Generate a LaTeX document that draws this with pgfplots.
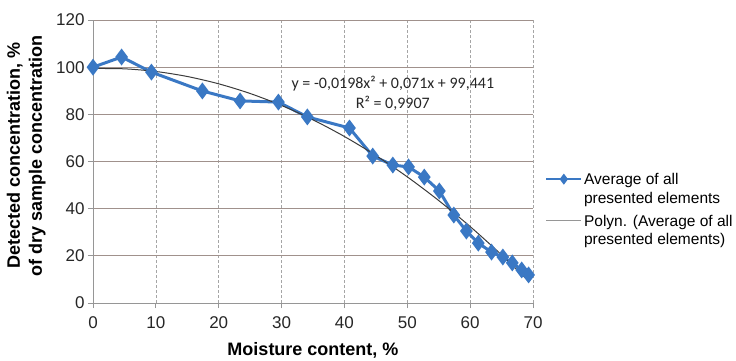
\documentclass[border=0pt]{standalone}
\usepackage{fontspec}
\setmainfont{Liberation Sans}
\newfontfamily\carlito{Carlito}
\usepackage{pgfplots}
\pgfplotsset{compat=1.18}
\definecolor{serblue}{RGB}{58,120,196}
\definecolor{hgrid}{RGB}{160,145,140}
\definecolor{vgrid}{RGB}{165,165,165}
\definecolor{axgray}{RGB}{150,150,150}
\definecolor{trend}{RGB}{60,60,60}
\definecolor{trendleg}{RGB}{150,150,150}
\newcommand{\legtxt}[1]{\begin{tabular}[t]{@{}l@{}}#1\end{tabular}}
\begin{document}
\begin{tikzpicture}
\path[use as bounding box] (-93pt,-57pt) rectangle (643pt,303pt);
\begin{axis}[
  at={(0pt,0pt)}, anchor=south west,
  scale only axis, width=440pt, height=283pt,
  xmin=0, xmax=70, ymin=0, ymax=120,
  xtick={0,10,...,70}, ytick={0,20,...,120},
  axis x line*=bottom, axis y line*=left,
  axis line style={-, draw=axgray, line width=0.8pt},
  tick align=outside, major tick length=5pt,
  tick style={draw=axgray, line width=0.8pt},
  xmajorgrids, ymajorgrids,
  x grid style={vgrid, line width=0.6pt, dash pattern=on 3pt off 2pt},
  y grid style={hgrid, line width=0.9pt},
  ticklabel style={font=\fontsize{17}{20}\selectfont, text=black!85},
  xticklabel style={yshift=-5pt},
  /pgf/number format/assume math mode=true,
  clip=false,
  xlabel={Moisture content, \%},
  ylabel={Detected concentration, \%\\of dry sample concentration},
  xlabel style={font=\bfseries\fontsize{18}{20}\selectfont, at={(axis description cs:0.5,-0.166)}, anchor=center},
  ylabel style={font=\bfseries\fontsize{18}{22}\selectfont, align=center, at={(axis description cs:-0.152,0.52)}, anchor=center},
  legend style={at={(axis description cs:1.027,0.47)}, anchor=north west, draw=none, fill=none,
    font=\fontsize{15.5}{18.5}\selectfont, nodes={anchor=base west, inner sep=1.5pt}, inner sep=0pt, row sep=24pt},
  legend image code/.code={\draw[#1, mark repeat=2, mark phase=2] plot coordinates {(0pt,5.5pt)(17.5pt,5.5pt)(35pt,5.5pt)};},
]
\addplot[serblue, line width=3pt, mark=diamond*, mark size=6pt, mark options={solid, fill=serblue, draw=serblue}, forget plot] coordinates {
(0,100)(4.55,104.3)(9.3,97.9)(17.4,89.9)(23.4,85.7)(29.5,85.2)(34.1,78.9)(40.8,74.2)(44.5,62.3)(47.7,58.5)(50.2,57.7)(52.7,53.4)(55.1,47.5)(57.4,37.3)(59.4,30.5)(61.3,25.4)(63.4,21.6)(65.2,19.5)(66.7,17)(68.2,14)(69.3,11.9)
};
\addplot[trend, line width=1pt, smooth, forget plot] coordinates {
(0,99.44)(5,99.30)(10,98.17)(15,96.05)(20,92.94)(25,88.84)(30,83.75)(35,77.67)(40,70.60)(45,62.54)(50,53.49)(55,43.45)(60,32.42)(65,20.40)(69.3,9.27)
};
\addlegendimage{serblue, line width=2.5pt, mark=diamond*, mark size=3.5pt, mark options={solid, fill=serblue}}
\addlegendentry{\legtxt{Average of all\\presented elements}}
\addlegendimage{trendleg, line width=1.5pt}
\addlegendentry{\legtxt{Polyn. (Average of all\\presented elements)}}
\node[font=\carlito\fontsize{16}{20}\selectfont, align=center, text=black!85] at (axis cs:47.7,88.8) {y = -0,0198x² + 0,071x + 99,441\\R² = 0,9907};
\end{axis}
\end{tikzpicture}
\end{document}
